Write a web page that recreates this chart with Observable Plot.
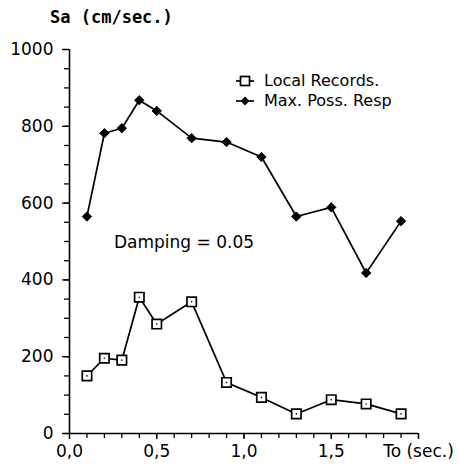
<!DOCTYPE html>
<html><head><meta charset="utf-8">
<script src="https://cdn.jsdelivr.net/npm/d3@7"></script>
<script src="https://cdn.jsdelivr.net/npm/@observablehq/plot@0.6"></script>
<style>
body{margin:0;background:#fff}
#wrap{position:relative;width:459px;height:471px;background:#fff}
.ov{position:absolute;white-space:nowrap;color:#000;line-height:1}
</style>
</head><body><div id="wrap"></div>
<script>
// Data
const periods = [0.1, 0.2, 0.3, 0.4, 0.5, 0.7, 0.9, 1.1, 1.3, 1.5, 1.7, 1.9];
const localRecords = [150, 196, 191, 355, 285, 343, 133, 94, 51, 88, 77, 51];
const maxPossResp = [565, 782, 795, 868, 840, 769, 759, 720, 565, 589, 418, 553];
const xTickValues = [0, 0.5, 1.0, 1.5, 2.0];
const xTickLabels = ["0,0", "0,5", "1,0", "1,5", "To (sec.)"];
const yTickValues = [0, 200, 400, 600, 800, 1000];
const seriesNames = ["Local Records.", "Max. Poss. Resp"];
const yTitle = "Sa (cm/sec.)";
const annotation = "Damping = 0.05";

const data = periods.map((t, i) => ({t, local: localRecords[i], max: maxPossResp[i]}));
const xMinor = d3.range(0, 21).map(i => i / 10);
const yMinor = d3.range(0, 21).map(i => i * 50);

const plot = Plot.plot({
  width: 459, height: 471,
  marginLeft: 69, marginRight: 41, marginTop: 49, marginBottom: 38,
  style: {fontFamily: "DejaVu Sans", fontSize: "17px", color: "black", background: "white", overflow: "visible"},
  x: {domain: [0, 2]},
  y: {domain: [0, 1000]},
  marks: [
    Plot.axisX(xMinor, {tickSize: 5, tickFormat: () => "", label: null, strokeWidth: 1.3}),
    Plot.axisX(xTickValues, {tickSize: 6, tickPadding: 5, label: null, strokeWidth: 1.3,
      tickFormat: d => xTickLabels[xTickValues.indexOf(d)]}),
    Plot.axisY(yMinor, {tickSize: 5, tickFormat: () => "", label: null, strokeWidth: 1.3}),
    Plot.axisY(yTickValues, {tickSize: 7, tickPadding: 9, label: null, strokeWidth: 1.3,
      tickFormat: d => String(d)}),
    Plot.ruleX([0], {stroke: "black", strokeWidth: 1.6}),
    Plot.ruleY([0], {stroke: "black", strokeWidth: 1.6}),
    Plot.line(data, {x: "t", y: "max", stroke: "black", strokeWidth: 1.7}),
    Plot.dot(data, {x: "t", y: "max", symbol: "diamond2", r: 4.2, fill: "black", stroke: "black", strokeWidth: 1}),
    Plot.line(data, {x: "t", y: "local", stroke: "black", strokeWidth: 1.7}),
    Plot.dot(data, {x: "t", y: "local", symbol: "square", r: 5.3, fill: "white", stroke: "black", strokeWidth: 1.7}),
    Plot.dot(data, {x: "t", y: "local", r: 0.8, fill: "black"})
  ]
});
const wrap = document.getElementById("wrap");
wrap.appendChild(plot);

function ov(html, css) {
  const d = document.createElement("div");
  d.className = "ov";
  d.style.cssText = css;
  d.innerHTML = html;
  wrap.appendChild(d);
}
ov(yTitle, "left:50px;top:7px;font:bold 17px 'DejaVu Sans Mono';");
ov(annotation, "left:114px;top:232px;font:17px 'DejaVu Sans';");
const sq = `<svg width="20" height="12" style="vertical-align:middle"><line x1="1" x2="19" y1="6" y2="6" stroke="black" stroke-width="1.7"/><rect x="5.5" y="1.5" width="9" height="9" fill="white" stroke="black" stroke-width="1.7"/></svg>`;
const di = `<svg width="20" height="12" style="vertical-align:middle"><line x1="1" x2="19" y1="6" y2="6" stroke="black" stroke-width="1.7"/><path d="M10,1.5L14.5,6L10,10.5L5.5,6Z" fill="black"/></svg>`;
ov(`<div style="display:flex;align-items:center;gap:9px">${sq}<span>${seriesNames[0]}</span></div>`, "left:235px;top:71px;font:16px 'DejaVu Sans';");
ov(`<div style="display:flex;align-items:center;gap:9px">${di}<span>${seriesNames[1]}</span></div>`, "left:235px;top:91px;font:16px 'DejaVu Sans';");
</script>
</body></html>
